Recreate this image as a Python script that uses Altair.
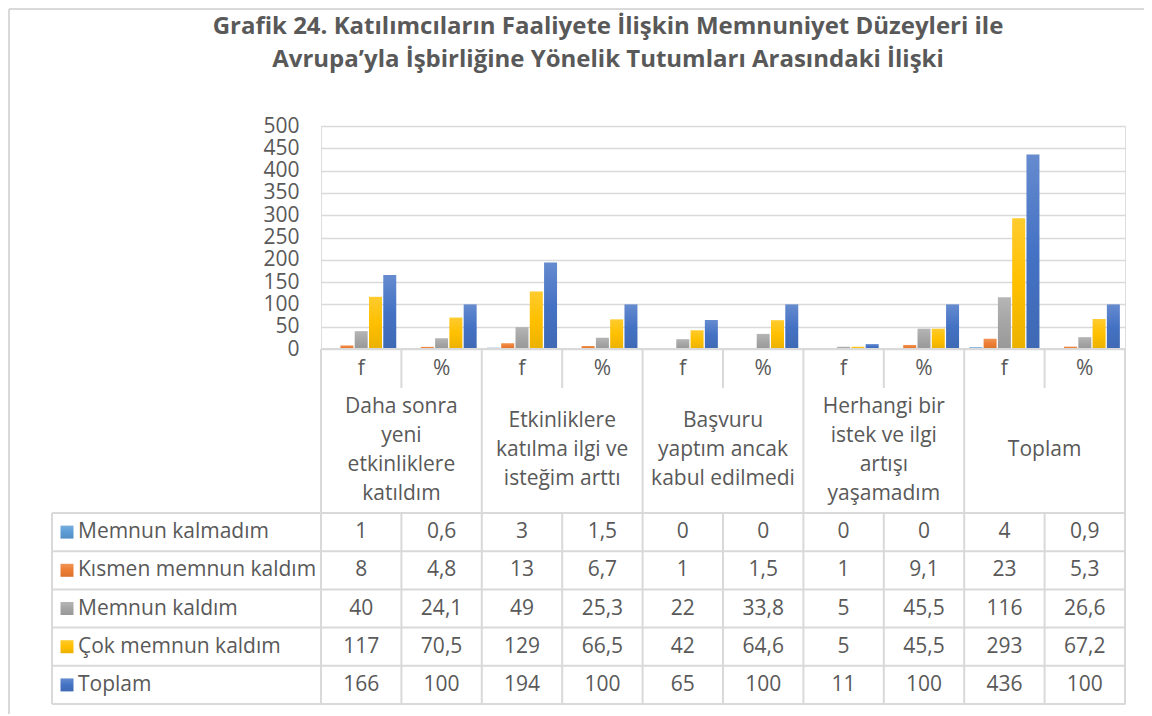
import altair as alt
import pandas as pd

# ---------------- data ----------------
series = ["Memnun kalmadım", "Kısmen memnun kaldım", "Memnun kaldım", "Çok memnun kaldım", "Toplam"]
colors = ["#5B9BD5", "#ED7D31", "#A5A5A5", "#FFC000", "#4472C4"]
groups = [
    "Daha sonra\nyeni\netkinliklere\nkatıldım",
    "Etkinliklere\nkatılma ilgi ve\nisteğim arttı",
    "Başvuru\nyaptım ancak\nkabul edilmedi",
    "Herhangi bir\nistek ve ilgi\nartışı\nyaşamadım",
    "Toplam",
]
subs = ["f", "%"]
memnun_kalmadim = [1, 0.6, 3, 1.5, 0, 0, 0, 0, 4, 0.9]
kismen_memnun = [8, 4.8, 13, 6.7, 1, 1.5, 1, 9.1, 23, 5.3]
memnun_kaldim = [40, 24.1, 49, 25.3, 22, 33.8, 5, 45.5, 116, 26.6]
cok_memnun = [117, 70.5, 129, 66.5, 42, 64.6, 5, 45.5, 293, 67.2]
toplam = [166, 100, 194, 100, 65, 100, 11, 100, 436, 100]
y_ticks = [0, 50, 100, 150, 200, 250, 300, 350, 400, 450, 500]
title_lines = [
    "Grafik 24. Katılımcıların Faaliyete İlişkin Memnuniyet Düzeyleri ile",
    "Avrupa’yla İşbirliğine Yönelik Tutumları Arasındaki İlişki",
]

values = [memnun_kalmadim, kismen_memnun, memnun_kaldim, cok_memnun, toplam]
ncols = len(groups) * len(subs)

rows = []
for s, vals in zip(series, values):
    for i, v in enumerate(vals):
        rows.append({"series": s, "col": i, "value": v,
                     "label": str(v).replace(".", ",")})
df = pd.DataFrame(rows)

cols_df = pd.DataFrame({"col": list(range(ncols)),
                        "sub": [subs[i % 2] for i in range(ncols)]})
grp_df = pd.DataFrame({"col": [2 * g for g in range(len(groups))], "group": groups,
                       "nlines": [g.count("\n") + 1 for g in groups]})
leg_df = pd.DataFrame({"series": series})

# ---------------- layout constants (pixels) ----------------
W, H = 804, 578
BAR_H = 223          # baseline of bars
HDR_B = 262          # bottom of f/% header strip
TBL_T = 387          # top of data rows
LEG_X = -269         # left edge of legend column
GRP_MID = 324        # vertical centre of group label cell
LH = 29              # line height of group labels
FONT = "Open Sans"
FS = 21
TXT = "#595959"
LINE = "#D9D9D9"

xsc = alt.Scale(paddingInner=0, paddingOuter=0)
rowsc = alt.Scale(domain=series, range=[TBL_T, H], paddingInner=0, paddingOuter=0)
offsc = alt.Scale(domain=series, paddingInner=0.09, paddingOuter=0.36)
ysc = alt.Scale(domain=[0, 500], range=[BAR_H, 0], nice=False)


def mix(hex_color, other, t):
    a = [int(hex_color[i:i + 2], 16) for i in (1, 3, 5)]
    b = [int(other[i:i + 2], 16) for i in (1, 3, 5)]
    return "#" + "".join(f"{round(x + (y - x) * t):02x}" for x, y in zip(a, b))


def grad(c):
    return alt.Gradient(gradient="linear", x1=0, x2=0, y1=0, y2=1, stops=[
        alt.GradientStop(color=mix(c, "#ffffff", 0.18), offset=0),
        alt.GradientStop(color=c, offset=0.5),
        alt.GradientStop(color=mix(c, "#000000", 0.08), offset=1),
    ])


bar_layers = []
for k, (s, c) in enumerate(zip(series, colors)):
    axis = alt.Axis(values=y_ticks, title=None, ticks=False, domain=False,
                    labelFontSize=FS, labelFont=FONT, labelColor=TXT,
                    labelPadding=22, gridColor=LINE, gridWidth=1.5) if k == 0 else None
    bar_layers.append(
        alt.Chart(df).transform_filter(alt.datum.series == s).mark_bar(color=grad(c)).encode(
            x=alt.X("col:O", scale=xsc, axis=None),
            xOffset=alt.XOffset("series:N", sort=series, scale=offsc),
            y=alt.Y("value:Q", scale=ysc, axis=axis),
        )
    )


def vrule(data, bp, y1, y2):
    return alt.Chart(data).mark_rule(color=LINE, strokeWidth=2).encode(
        x=alt.X("col:O", scale=xsc, axis=None, bandPosition=bp),
        y=alt.value(y1), y2=alt.value(y2))


group_edges = cols_df[cols_df["col"] % 2 == 0]
inner_edges = cols_df[cols_df["col"] % 2 == 1]
last_col = cols_df[cols_df["col"] == ncols - 1]

v_full = vrule(group_edges, 0, BAR_H, H)
v_right = vrule(last_col, 1, BAR_H, H)
v_head = vrule(inner_edges, 0, BAR_H, HDR_B)
v_data = vrule(inner_edges, 0, TBL_T, H)

h_rows = alt.Chart(leg_df).mark_rule(color=LINE, strokeWidth=2).encode(
    y=alt.Y("series:N", scale=rowsc, sort=series, axis=None, bandPosition=0),
    x=alt.value(LEG_X), x2=alt.value(W))
h_bottom = alt.Chart(leg_df.head(1)).mark_rule(color=LINE, strokeWidth=2).encode(
    y=alt.value(H), x=alt.value(LEG_X), x2=alt.value(W))
h_top = alt.Chart(leg_df.head(1)).mark_rule(color=LINE, strokeWidth=2).encode(
    y=alt.value(BAR_H), x=alt.value(0), x2=alt.value(W))
v_left = alt.Chart(leg_df.head(1)).mark_rule(color=LINE, strokeWidth=2).encode(
    x=alt.value(LEG_X), y=alt.value(TBL_T), y2=alt.value(H))
frame_left = alt.Chart(leg_df.head(1)).mark_rule(color=LINE, strokeWidth=2).encode(
    x=alt.value(-312), y=alt.value(-117), y2=alt.value(H + 12))
frame_top = alt.Chart(leg_df.head(1)).mark_rule(color=LINE, strokeWidth=2).encode(
    y=alt.value(-117), x=alt.value(-312), x2=alt.value(W + 19))

sub_text = alt.Chart(cols_df).mark_text(fontSize=FS, font=FONT, color=TXT).encode(
    x=alt.X("col:O", scale=xsc, axis=None),
    y=alt.value((BAR_H + HDR_B) / 2), text="sub:N")

# first line position depends on the number of lines so the block is centred
grp_text = alt.Chart(grp_df).mark_text(fontSize=FS, font=FONT, color=TXT,
                                       lineBreak="\n", lineHeight=LH).encode(
    x=alt.X("col:O", scale=xsc, axis=None, bandPosition=1),
    y=alt.Y("nlines:Q", axis=None,
            scale=alt.Scale(domain=[1, 4], range=[GRP_MID, GRP_MID - 1.5 * LH])),
    text="group:N")

cell_text = alt.Chart(df).mark_text(fontSize=FS, font=FONT, color=TXT).encode(
    x=alt.X("col:O", scale=xsc, axis=None),
    y=alt.Y("series:N", scale=rowsc, sort=series, axis=None),
    text="label:N")

leg_sq = []
for s, c in zip(series, colors):
    leg_sq.append(
        alt.Chart(leg_df).transform_filter(alt.datum.series == s)
        .mark_square(size=169, opacity=1, color=grad(c)).encode(
            x=alt.value(LEG_X + 15),
            y=alt.Y("series:N", scale=rowsc, sort=series, axis=None))
    )

leg_text = alt.Chart(leg_df).mark_text(fontSize=FS, font=FONT, color=TXT, align="left").encode(
    x=alt.value(LEG_X + 26),
    y=alt.Y("series:N", scale=rowsc, sort=series, axis=None),
    text="series:N")

chart = alt.layer(
    *bar_layers, v_full, v_right, v_head, v_data, h_rows, h_bottom, h_top, v_left,
    frame_left, frame_top, sub_text, grp_text, cell_text, *leg_sq, leg_text,
).resolve_scale(y="independent").properties(
    width=W, height=H,
    autosize=alt.AutoSizeParams(type="none"),
    padding={"left": 313, "top": 118, "right": 19, "bottom": 10},
    title=alt.TitleParams(text=title_lines, fontSize=24, fontWeight="bold", font=FONT,
                          color=TXT, lineHeight=33, anchor="middle", frame="group",
                          dx=-115, offset=0, dy=64),
).configure_view(stroke=None).configure(background="white")

chart.save("out.html", embed_options={"renderer": "svg", "actions": False})
